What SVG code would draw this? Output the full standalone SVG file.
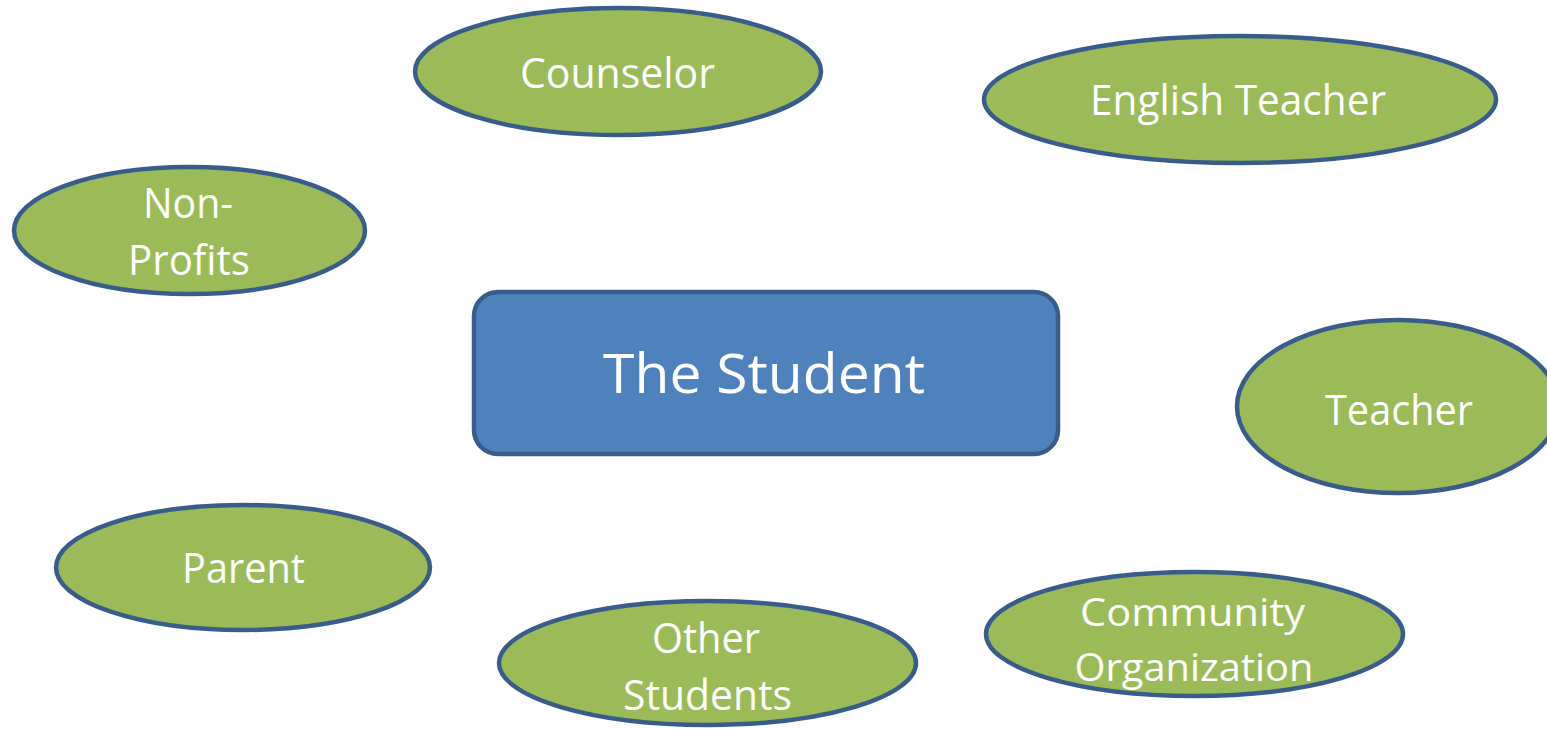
<svg xmlns="http://www.w3.org/2000/svg" width="1547" height="729" viewBox="0 0 1547 729">
<style>
.bg{fill:#ffffff}
.oval{fill:#9BBB59;stroke:#385D8A;stroke-width:4.5}
.box{fill:#4F81BD;stroke:#385D8A;stroke-width:4.5}
.lbl{font-family:"Open Sans","Liberation Sans",sans-serif;font-size:42px;fill:#ffffff;text-anchor:middle}
.big{font-size:54px}
.tight{font-size:39px}
</style>
<rect class="bg" x="0" y="0" width="1547" height="729"/>
<g id="connectors"></g>
<g id="node-student">
<rect class="box" x="474" y="292" width="584" height="162" rx="24" ry="24"/>
<text class="lbl big" x="764" y="393" textLength="322" lengthAdjust="spacingAndGlyphs">The Student</text>
</g>
<g id="node-counselor">
<ellipse class="oval" cx="618" cy="71.5" rx="203" ry="63.5"/>
<text class="lbl" x="617.5" y="88" textLength="195" lengthAdjust="spacingAndGlyphs">Counselor</text>
</g>
<g id="node-english-teacher">
<ellipse class="oval" cx="1240" cy="99.5" rx="256" ry="63.5"/>
<text class="lbl" x="1238" y="115" textLength="296" lengthAdjust="spacingAndGlyphs">English Teacher</text>
</g>
<g id="node-nonprofits">
<ellipse class="oval" cx="189.5" cy="230.5" rx="175.5" ry="63.5"/>
<text class="lbl" x="188" y="218" textLength="90" lengthAdjust="spacingAndGlyphs">Non-</text>
<text class="lbl" x="189" y="275" textLength="122" lengthAdjust="spacingAndGlyphs">Profits</text>
</g>
<g id="node-teacher">
<ellipse class="oval" cx="1398" cy="406.5" rx="161" ry="86.5"/>
<text class="lbl" x="1399" y="425" textLength="148" lengthAdjust="spacingAndGlyphs">Teacher</text>
</g>
<g id="node-parent">
<ellipse class="oval" cx="243" cy="567.5" rx="187" ry="62.5"/>
<text class="lbl" x="243.5" y="583" textLength="123" lengthAdjust="spacingAndGlyphs">Parent</text>
</g>
<g id="node-other-students">
<ellipse class="oval" cx="707.5" cy="663" rx="208.5" ry="62"/>
<text class="lbl" x="706" y="653" textLength="108" lengthAdjust="spacingAndGlyphs">Other</text>
<text class="lbl" x="707.5" y="710" textLength="169" lengthAdjust="spacingAndGlyphs">Students</text>
</g>
<g id="node-community">
<ellipse class="oval" cx="1194.5" cy="634" rx="208.5" ry="62"/>
<text class="lbl tight" x="1192.5" y="626" textLength="225" lengthAdjust="spacingAndGlyphs">Community</text>
<text class="lbl tight" x="1194" y="681" textLength="239" lengthAdjust="spacingAndGlyphs">Organization</text>
</g>
</svg>
